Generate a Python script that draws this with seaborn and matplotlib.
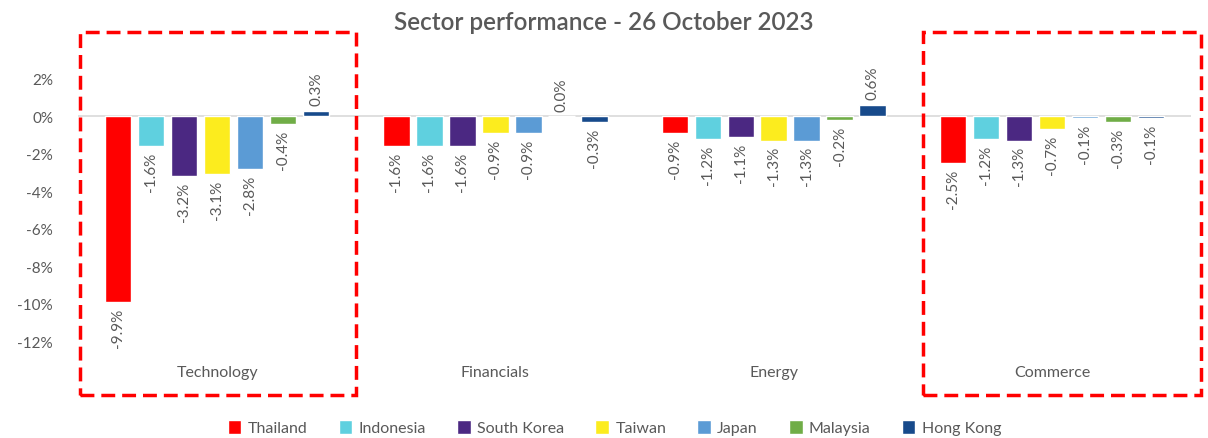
import pandas as pd
import matplotlib.pyplot as plt
import seaborn as sns
from matplotlib.patches import Rectangle

# datos
sectors = ['Technology', 'Financials', 'Energy', 'Commerce']
markets = ['Thailand', 'Indonesia', 'South Korea', 'Taiwan', 'Japan', 'Malaysia', 'Hong Kong']
thailand = [-9.9, -1.6, -0.9, -2.5]
indonesia = [-1.6, -1.6, -1.2, -1.2]
south_korea = [-3.2, -1.6, -1.1, -1.3]
taiwan = [-3.1, -0.9, -1.3, -0.7]
japan = [-2.8, -0.9, -1.3, -0.1]
malaysia = [-0.4, 0.0, -0.2, -0.3]
hong_kong = [0.3, -0.3, 0.6, -0.1]
colors = ['#FF0000', '#5FD0DF', '#4B2882', '#FCEC1E', '#5B9BD5', '#70AD47', '#174A8B']
y_ticks = [-12, -10, -8, -6, -4, -2, 0, 2]

series = [thailand, indonesia, south_korea, taiwan, japan, malaysia, hong_kong]
rows = []
for m, vals in zip(markets, series):
    for s, v in zip(sectors, vals):
        rows.append({'sector': s, 'market': m, 'value': v})
df = pd.DataFrame(rows)

sns.set_style('white')
plt.rcParams['font.family'] = ['Lato', 'DejaVu Sans']
gray = '#595959'

fig = plt.figure(figsize=(12.08, 4.39), dpi=100)
ax = fig.add_axes([0.0646, 0.178, 0.9214, 0.683])

sns.barplot(data=df, x='sector', y='value', hue='market', order=sectors,
            hue_order=markets, palette=colors, saturation=1, width=0.83, gap=0.2,
            ax=ax, legend=True)

for cont in ax.containers:
    ax.bar_label(cont, labels=[f'{v:.1f}%' for v in cont.datavalues],
                 rotation=90, padding=4, fontsize=11, color=gray)

ax.axhline(0, color='#D9D9D9', lw=1.2, zorder=0)
ax.set_ylim(-13, 3)
ax.set_yticks(y_ticks)
ax.set_yticklabels([f'{t}%' for t in y_ticks], fontsize=11, color=gray)
ax.tick_params(axis='x', length=0, pad=4, labelsize=11.5, labelcolor=gray)
ax.tick_params(axis='y', length=0, pad=18)
ax.set_xlabel('')
ax.set_ylabel('')
sns.despine(ax=ax, left=True, bottom=True)

ax.legend(loc='lower center', bbox_to_anchor=(0.482, -0.30), ncol=7, frameon=False,
          fontsize=11.5, handlelength=0.85, handleheight=1.0, handletextpad=0.4,
          columnspacing=1.95, labelcolor=gray)

fig.suptitle('Sector performance - 26 October 2023', y=0.975, fontsize=17.5,
             fontweight='semibold', color=gray)

# recuadros rojos punteados
for x0, x1 in [(80, 356), (923, 1201)]:
    fig.patches.append(Rectangle((x0 / 1208, 1 - 396 / 439), (x1 - x0) / 1208,
                                 (396 - 33) / 439, transform=fig.transFigure,
                                 fill=False, edgecolor='#FF0000', lw=2.5,
                                 linestyle=(0, (4, 2))))

fig.savefig('out.png', dpi=100)
